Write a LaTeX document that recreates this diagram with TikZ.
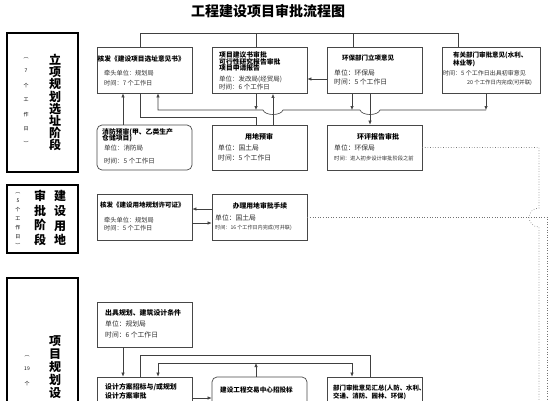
\documentclass[tikz,border=0pt]{standalone}
\usepackage{fontspec}
\setmainfont{Noto Sans CJK SC}
\usetikzlibrary{arrows.meta}
\begin{document}
\begin{tikzpicture}[x=1pt,y=-1pt,
  box/.style={draw=black!72, line width=0.7pt, inner sep=0pt, minimum width=95pt, minimum height=46pt},
  rbox/.style={box, rounded corners=5pt},
  phase/.style={draw=black, line width=1.3pt, inner sep=0pt, minimum width=71pt},
  t/.style={inner sep=0pt, anchor=west, text=black!82, font=\fontsize{#1pt}{#1pt}\selectfont},
  tc/.style={t=#1, anchor=center},
  b/.style={inner sep=0pt, anchor=west, text=black, font=\fontsize{#1pt}{#1pt}\selectfont\bfseries},
  bc/.style={b=#1, anchor=center},
  vcol/.style={inner sep=0pt, align=center, font=\fontsize{12pt}{#1pt}\selectfont\bfseries},
  vsm/.style={inner sep=0pt, align=center, font=\fontsize{5pt}{#1pt}\selectfont},
  conn/.style={draw=black!75, line width=0.6pt},
  arr/.style={conn, -{Latex[length=4pt,width=3.4pt]}},
  dotl/.style={draw=black!55, line width=0.6pt, dotted},
]
\clip (0,0) rectangle (548,400);
\fill[white] (0,0) rectangle (548,400);

% title
\node[inner sep=0pt, font=\fontsize{14pt}{14pt}\selectfont\bfseries] (title) at (268,11) {工程建设项目审批流程图};

% phase boxes
\node[phase, minimum height=139pt] (P1) at (42.5,102.5) {};
\node[phase, minimum height=68pt] (P2) at (42.5,219) {};
\node[phase, minimum height=160pt] (P3) at (42.5,358) {};

\node[vcol=12.1] (P1a) at (55,102.5) {立\\项\\规\\划\\选\\址\\阶\\段};
\node[vsm=14.5] (P1b) at (26,101.5) {︵\\7\\个\\工\\作\\日\\︶};
\node[vcol=14.7] (P2a) at (60,218) {建\\设\\用\\地};
\node[vcol=14.7] (P2b) at (40,218) {审\\批\\阶\\段};
\node[vsm=9] (P2c) at (18,220.5) {︵\\5\\个\\工\\作\\日\\︶};
\node[vcol=13, anchor=north] (P3a) at (55,335) {项\\目\\规\\划\\设};
\node[vsm=14.5, anchor=north] (P3b) at (27,355) {︵\\19\\个};

% boxes
\node[box] (A) at (144.5,70) {};
\node[box] (B) at (259.5,70.5) {};
\node[box] (C) at (374.5,70.5) {};
\node[box, minimum width=98pt] (D) at (491,70.5) {};
\node[rbox, minimum height=45pt] (E) at (144.5,147.5) {};
\node[box, minimum height=45pt] (F) at (259.5,147.5) {};
\node[box, minimum height=45pt] (G) at (374.5,147.5) {};
\node[box] (H) at (144.5,217) {};
\node[box] (I) at (259.5,217) {};
\node[box, minimum height=45pt] (J) at (144.5,324.5) {};
\node[box] (K) at (144.5,400) {};
\node[rbox] (L) at (259.5,400) {};
\node[box] (M) at (374.5,400) {};

% texts A
\node[b=6.7] (A1) at (97.5,59) {核发《建设项目选址意见书》};
\node[t=6.2] (A2) at (104,73) {牵头单位：规划局};
\node[t=6.2] (A3) at (104,83) {时间：7 个工作日};
% B
\node[b=6.8] (B1) at (219,55) {项目建议书审批};
\node[b=6.8] (B2) at (219,61.5) {可行性研究报告审批};
\node[b=6.8] (B3) at (219,68) {项目申请报告};
\node[t=6.5] (B4) at (219,79) {单位：发改局(经贸局)};
\node[t=6.5] (B5) at (219,87) {时间：6 个工作日};
% C
\node[bc=6.5] (C1) at (368,58) {环保部门立项意见};
\node[t=6.8] (C2) at (334,73) {单位：环保局};
\node[t=6.8] (C3) at (334,82) {时间：5 个工作日};
% D
\node[b=6.5] (D1) at (453,55) {有关部门审批意见(水利、};
\node[b=6.5] (D2) at (453,63) {林业等)};
\node[t=6] (D3) at (443,73) {时间：5 个工作日出具初审意见};
\node[t=5.4] (D4) at (467,83) {20 个工作日内完成(可并联)};
% E
\node[b=6.8] (E1) at (102,132) {消防预审(甲、乙类生产};
\node[b=6.8] (E2) at (102,138.5) {仓储项目)};
\node[t=6.5] (E3) at (104,148) {单位：消防局};
\node[t=6.5] (E4) at (104,161) {时间：5 个工作日};
% F
\node[bc=7] (F1) at (259,137) {用地预审};
\node[t=6.8] (F2) at (218,148) {单位：国土局};
\node[t=6.8] (F3) at (218,158) {时间：5 个工作日};
% G
\node[bc=7] (G1) at (378,137) {环评报告审批};
\node[t=6.8] (G2) at (334,148) {单位：环保局};
\node[t=5.3] (G3) at (334,158) {时间：进入初步设计审批阶段之前};
% H
\node[b=6.5] (H1) at (100,205) {核发《建设用地规划许可证》};
\node[t=6.2] (H2) at (104,220) {牵头单位：规划局};
\node[t=6.2] (H3) at (104,228) {时间：5 个工作日};
% I
\node[bc=6.8] (I1) at (260,206) {办理用地审批手续};
\node[t=6.8] (I2) at (215,218) {单位：国土局};
\node[t=5.1] (I3) at (215,228) {时间：16 个工作日内完成(可并联)};
% J
\node[b=6.9] (J1) at (105,313) {出具规划、建筑设计条件};
\node[t=6.8] (J2) at (105,324) {单位：规划局};
\node[t=6.8] (J3) at (105,335) {时间：6 个工作日};
% K
\node[b=6.9] (K1) at (105,387) {设计方案招标与/或规划};
\node[b=6.9] (K2) at (105,396) {设计方案审批};
% L
\node[b=6.6] (L1) at (220,390) {建设工程交易中心招投标};
% M
\node[b=6.4] (M1) at (333,388) {部门审批意见汇总(人防、水利、};
\node[b=6.4] (M2) at (333,396.5) {交通、消防、园林、环保)};

% ---- connectors phase 1
\draw[conn] (A.north -| 140,0) -- (140,33) -- (458,33) -- (D.north -| 458,0);
\draw[conn] (256,33) -- (B.north -| 256,0);
\draw[conn] (353,33) -- (C.north -| 353,0);
\draw[arr] (C.west |- 0,79) -- (B.east |- 0,79);
\draw[arr] (E.north -| 123,0) -- (A.south -| 123,0);
\draw[conn] (A.south -| 140,0) -- (140,117) -- (256,117) -- (F.north -| 256,0);
\draw[arr] (B.south -| 256,0) -- (256,110);
\draw[arr] (F.north -| 273,0) -- (B.south -| 273,0);
\draw[arr] (C.south -| 352,0) -- (352,110);
\draw[arr] (C.south -| 370,0) -- (G.north -| 370,0);
\draw[arr] (D.south -| 486,0) -- (486,110);
\draw[arr] (486,110) -- (380,110) .. controls (378,116) and (362,116) .. (360,110)
  -- (283,110) .. controls (281,116) and (265,116) .. (263,110) -- (158,110) -- (A.south -| 158,0);

% ---- phase 2
\draw[arr] (I.west |- 0,209) -- (H.east |- 0,209);
\draw[arr] (H.east |- 0,223) -- (I.west |- 0,223);
\draw[dotl] (I.east) -- (547,217) -- (547,410);
\draw[dotl] (G.east) -- (539,147.5) -- (539,208) .. controls (526,208) and (526,227) .. (539,227) -- (539,410);

% ---- phase 3
\draw[arr] (J.south -| 123,0) -- (K.north -| 123,0);
\draw[conn] (K.north -| 140,0) -- (140,355) -- (370,355) -- (M.north -| 370,0);
\draw[conn] (158,363) -- (352,363);
\draw[arr] (158,363) -- (K.north -| 158,0);
\draw[arr] (352,363) -- (M.north -| 352,0);
\draw[arr] (L.north -| 256,0) -- (256,363);
\draw[arr] (K.east |- 0,398) -- (L.west |- 0,398);
\end{tikzpicture}
\end{document}
